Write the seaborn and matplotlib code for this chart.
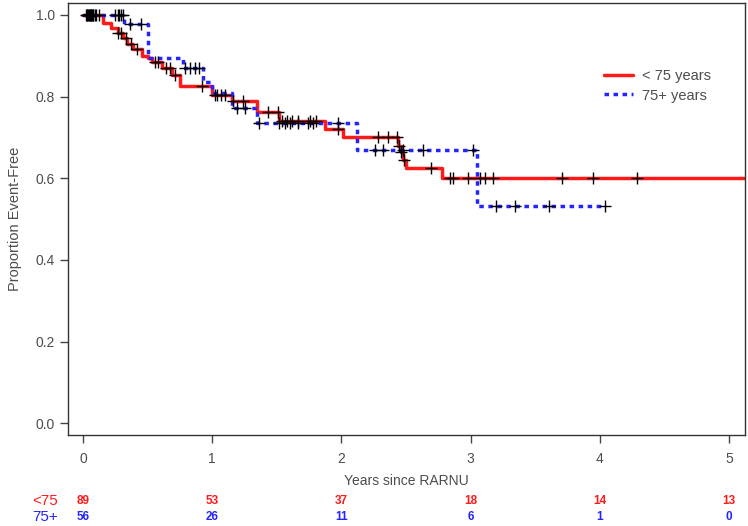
import matplotlib as mpl
mpl.use('Agg')
import matplotlib.pyplot as plt
import matplotlib.transforms as mtransforms
import seaborn as sns
import pandas as pd
import numpy as np

# step curves (time in years, proportion event-free)
young_times = [0, 0.155, 0.22, 0.27, 0.31, 0.34, 0.39, 0.46, 0.50, 0.53, 0.61, 0.69, 0.75,
               1.0, 1.15, 1.35, 1.52, 1.87, 2.01, 2.44, 2.46, 2.48, 2.50, 2.78]
young_surv = [1.0, 0.98, 0.968, 0.956, 0.944, 0.93, 0.917, 0.90, 0.895, 0.885, 0.87, 0.853, 0.825,
              0.805, 0.79, 0.762, 0.74, 0.72, 0.70, 0.68, 0.665, 0.645, 0.625, 0.60]
young_last = 5.12
young_censor = [0.02, 0.03, 0.04, 0.05, 0.06, 0.07, 0.08, 0.09, 0.10, 0.12, 0.27, 0.29, 0.33,
                0.37, 0.42, 0.56, 0.58, 0.64, 0.67, 0.71, 0.92, 1.02, 1.04, 1.07, 1.10, 1.16,
                1.24, 1.43, 1.51, 1.54, 1.58, 1.62, 1.66, 1.76, 1.80, 1.97, 2.28, 2.36, 2.43,
                2.445, 2.465, 2.485, 2.69, 2.84, 2.86, 2.98, 3.07, 3.11, 3.17, 3.71, 3.95, 4.29]

old_times = [0, 0.32, 0.50, 0.77, 0.93, 1.0, 1.15, 1.35, 2.12, 3.05]
old_surv = [1.0, 0.977, 0.894, 0.871, 0.836, 0.81, 0.772, 0.735, 0.669, 0.533]
old_last = 4.04
old_censor = [0.03, 0.045, 0.055, 0.065, 0.075, 0.25, 0.27, 0.28, 0.29, 0.31, 0.36, 0.45,
              0.79, 0.83, 0.87, 0.90, 1.19, 1.25, 1.36, 1.52, 1.56, 1.60, 1.66, 1.74, 1.78,
              1.97, 2.26, 2.32, 2.48, 2.63, 3.02, 3.20, 3.34, 3.61, 4.04]

# numbers at risk
risk_years = [0, 1, 2, 3, 4, 5]
risk_young = [89, 53, 37, 18, 14, 13]
risk_old = [56, 26, 11, 6, 1, 0]

RED = '#ff1a1a'
BLUE = '#2424ff'
GREY = '#4d4d4d'

sns.set_theme(style='ticks')
plt.rcParams['font.family'] = ['Liberation Sans', 'DejaVu Sans']


def curve(times, surv, last):
    return pd.DataFrame({'t': times + [last], 's': surv + [surv[-1]]})


def censor_df(times, surv, cens):
    idx = np.searchsorted(times, cens, side='right') - 1
    return pd.DataFrame({'t': cens, 's': np.array(surv)[idx]})


fig, ax = plt.subplots(figsize=(7.48, 5.26), dpi=100)
plt.subplots_adjust(left=0.091, right=0.996, top=0.994, bottom=0.173)

sns.lineplot(data=curve(young_times, young_surv, young_last), x='t', y='s', ax=ax,
             drawstyle='steps-post', estimator=None, sort=False, color=RED,
             linewidth=2.5, label='< 75 years')
sns.lineplot(data=curve(old_times, old_surv, old_last), x='t', y='s', ax=ax,
             drawstyle='steps-post', estimator=None, sort=False, color=BLUE,
             linewidth=2.5, linestyle=(0, (1.3, 1.3)), label='75+ years')

marks = pd.concat([censor_df(young_times, young_surv, young_censor),
                   censor_df(old_times, old_surv, old_censor)])
sns.scatterplot(data=marks, x='t', y='s', ax=ax, marker='+', color='black',
                s=75, linewidth=1.0, zorder=5)

ax.set_xlim(-0.116, 5.124)
ax.set_ylim(-0.029, 1.029)
ax.set_xticks(risk_years)
ax.set_yticks([0.0, 0.2, 0.4, 0.6, 0.8, 1.0])
ax.set_yticklabels(['0.0', '0.2', '0.4', '0.6', '0.8', '1.0'])
ax.tick_params(axis='both', direction='out', length=6, width=1, colors='#444444',
               labelcolor=GREY, labelsize=10)
ax.tick_params(axis='x', pad=6)
for sp in ax.spines.values():
    sp.set_color('#333333')
    sp.set_linewidth(1)
ax.set_xlabel('Years since RARNU', fontsize=10, color=GREY, labelpad=6)
ax.set_ylabel('Proportion Event-Free', fontsize=10.5, color=GREY, labelpad=10)

leg = ax.legend(loc='upper left', bbox_to_anchor=(0.772, 0.877), frameon=False,
                fontsize=10.5, handlelength=2.0, handletextpad=0.6, labelspacing=0.35)
for txt in leg.get_texts():
    txt.set_color(GREY)

# risk table under the axis
tr = mtransforms.blended_transform_factory(ax.transData, fig.transFigure)
for yr, a, b in zip(risk_years, risk_young, risk_old):
    ax.text(yr, 0.047, str(a), transform=tr, ha='center', va='center', color=RED,
            fontsize=8.5, fontweight='bold')
    ax.text(yr, 0.017, str(b), transform=tr, ha='center', va='center', color=BLUE,
            fontsize=8.5, fontweight='bold')
fig.text(45 / 748, 0.047, '<75', ha='center', va='center', color=RED, fontsize=11)
fig.text(45 / 748, 0.017, '75+', ha='center', va='center', color=BLUE, fontsize=11)

plt.savefig('out.png', dpi=100)
